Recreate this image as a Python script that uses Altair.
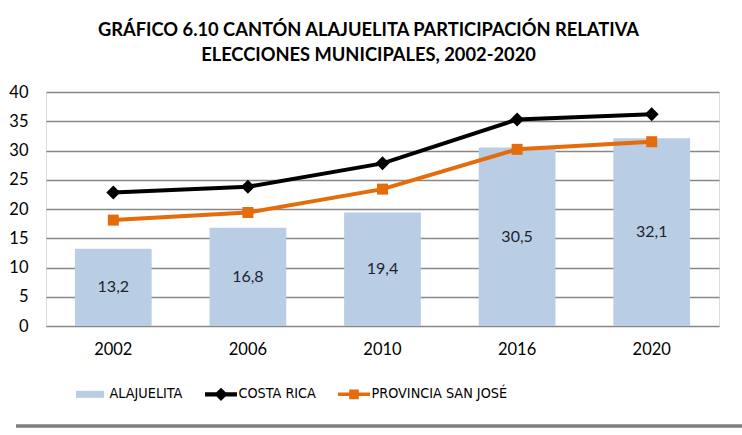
import altair as alt
import pandas as pd

years = ["2002", "2006", "2010", "2016", "2020"]
alajuelita = [13.2, 16.8, 19.4, 30.5, 32.1]
alajuelita_labels = ["13,2", "16,8", "19,4", "30,5", "32,1"]
costa_rica = [22.8, 23.8, 27.8, 35.3, 36.2]
provincia = [18.1, 19.4, 23.4, 30.2, 31.5]
y_ticks = [0, 5, 10, 15, 20, 25, 30, 35, 40]
series = ["ALAJUELITA", "COSTA RICA", "PROVINCIA SAN JOSÉ"]
colors = ["#b9cde5", "#000000", "#e46c0a"]
title_lines = ["GRÁFICO 6.10 CANTÓN ALAJUELITA PARTICIPACIÓN RELATIVA",
               "ELECCIONES MUNICIPALES, 2002-2020"]

FONT = "Lato"
LEGEND_FONT = "'DejaVu Sans Condensed', Lato"

bar_df = pd.DataFrame({"year": years, "value": alajuelita,
                       "label": alajuelita_labels, "serie": series[0]})
line_df = pd.concat([
    pd.DataFrame({"year": years, "value": costa_rica, "serie": series[1]}),
    pd.DataFrame({"year": years, "value": provincia, "serie": series[2]}),
])

x_axis = alt.Axis(labelAngle=0, ticks=False, domain=False,
                  labelFontSize=16.5, labelColor="#000000",
                  labelPadding=15, labelFont=FONT)
x_scale = alt.Scale(paddingInner=0.43, paddingOuter=0.215)
y_axis = alt.Axis(values=y_ticks, tickCount=9,
                  ticks=False, domain=False, labelFontSize=16.5,
                  labelColor="#000000", labelPadding=18,
                  labelFont=FONT, gridColor="#878787",
                  gridWidth=1.5, labelOverlap=False)
y_scale = alt.Scale(domain=[0, 40], nice=False)
color_scale = alt.Scale(domain=series, range=colors)


def xe():
    return alt.X("year:N", sort=years, title=None, scale=x_scale, axis=x_axis)


def ye(field):
    return alt.Y(field, scale=y_scale, title=None, axis=y_axis)


shape_expr = (
    "datum.value === 'ALAJUELITA' ? 'M-1,-0.22H0.75V0.22H-1Z' : "
    "datum.value === 'COSTA RICA' ? "
    "'M-1,-0.13H1V0.13H-1Z M0,-0.42L0.42,0L0,0.42L-0.42,0Z' : "
    "'M-1,-0.11H1V0.11H-1Z M-0.3,-0.3H0.3V0.3H-0.3Z'"
)
legend = alt.Legend(
    title=None, orient="none", legendX=30, legendY=286,
    direction="horizontal", symbolSize=1024, labelFontSize=14.3,
    labelFont=LEGEND_FONT, labelColor="#000000", labelOffset=1.5,
    columnPadding=22, labelLimit=400,
    symbolType={"expr": shape_expr}, symbolStrokeWidth=0,
    symbolOpacity=1,
)

bars = alt.Chart(bar_df).mark_bar(opacity=1).encode(
    x=xe(), y=ye("value:Q"),
    color=alt.Color("serie:N", scale=color_scale, legend=legend),
)
bar_text = alt.Chart(bar_df).transform_calculate(
    mid="datum.value / 2"
).mark_text(fontSize=16, font=FONT, color="#1f1f2f").encode(
    x=xe(), y=ye("mid:Q"),
    text="label:N",
)
lines = alt.Chart(line_df).mark_line(strokeWidth=4).encode(
    x=xe(), y=ye("value:Q"),
    color=alt.Color("serie:N", scale=color_scale, legend=None),
    strokeWidth=alt.StrokeWidth("serie:N", legend=None,
                                scale=alt.Scale(domain=series[1:], range=[4, 3.5])),
)
points = alt.Chart(line_df).mark_point(filled=True, opacity=1).encode(
    x=xe(), y=ye("value:Q"),
    color=alt.Color("serie:N", scale=color_scale, legend=None),
    shape=alt.Shape("serie:N", legend=None,
                    scale=alt.Scale(domain=series[1:], range=["diamond", "square"])),
    size=alt.Size("serie:N", legend=None,
                  scale=alt.Scale(domain=series[1:], range=[196, 121])),
)
border = alt.Chart(bar_df).mark_rule(color="#808080", strokeWidth=2.5).encode(
    x=alt.value(-30), x2=alt.value(696), y=alt.value(334),
)

chart = alt.layer(bars, bar_text, lines, points, border).properties(
    width=673, height=234,
    title=alt.TitleParams(text=title_lines, fontSize=18.3, fontWeight="bold",
                          font=FONT, color="#000000", anchor="middle",
                          dx=-14, offset=19, lineHeight=25),
    autosize=alt.AutoSizeParams(type="none"),
    padding={"left": 46, "top": 92, "right": 23, "bottom": 109},
).configure_view(stroke=None).configure(background="#ffffff")

chart.save("out.html", embed_options={"renderer": "svg", "actions": False})
